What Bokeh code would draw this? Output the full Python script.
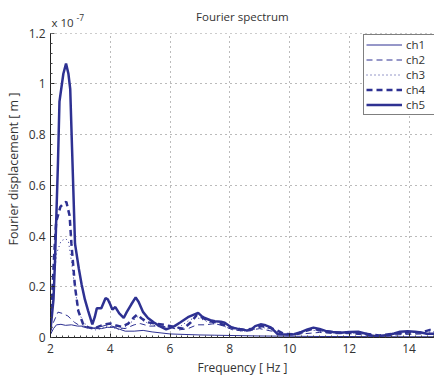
from bokeh.plotting import figure
from bokeh.models import Legend, LegendItem, Range1d, FixedTicker, Label, BoxAnnotation
from bokeh.embed import file_html
from bokeh.resources import INLINE

# Frequency [Hz] / Fourier displacement [x 1e-7 m]
f1 = [2.0, 2.1, 2.2, 2.35, 2.5, 2.7, 2.9, 3.1, 3.3, 3.5, 3.7, 3.9, 4.1, 4.3, 4.5, 4.8, 5.1, 5.4, 5.7, 6.0,
      6.5, 7.0, 7.5, 8.0, 9.0, 10.0, 11.0, 12.0, 13.0, 14.0, 14.85]
y1 = [0.012, 0.035, 0.05, 0.052, 0.048, 0.05, 0.045, 0.045, 0.04, 0.035, 0.035, 0.04, 0.04, 0.033, 0.025, 0.025,
      0.028, 0.022, 0.018, 0.014, 0.012, 0.01, 0.009, 0.008, 0.006, 0.005, 0.004, 0.004, 0.003, 0.003, 0.003]

f2 = [2.0, 2.1, 2.25, 2.4, 2.58, 2.8, 3.0, 3.3, 3.6, 3.9, 4.2, 4.5, 4.8, 5.0, 5.3, 5.7, 6.0, 6.3, 6.6, 6.9,
      7.2, 7.5, 7.8, 8.1, 8.5, 9.0, 9.4, 9.8, 10.5, 11.0, 11.5, 12.0, 13.0, 13.8, 14.85]
y2 = [0.02, 0.06, 0.1, 0.095, 0.085, 0.06, 0.045, 0.035, 0.04, 0.05, 0.04, 0.035, 0.05, 0.055, 0.045, 0.045,
      0.04, 0.03, 0.035, 0.05, 0.05, 0.055, 0.045, 0.03, 0.025, 0.035, 0.025, 0.01, 0.015, 0.02, 0.015, 0.015,
      0.005, 0.012, 0.015]

f3 = [2.0, 2.1, 2.2, 2.35, 2.5, 2.6, 2.7, 2.82, 2.95, 3.1, 3.3, 3.5, 3.7, 3.9, 4.1, 4.3, 4.55, 4.8, 4.95, 5.1,
      5.4, 5.7, 6.0, 6.3, 6.6, 6.85, 7.1, 7.4, 7.7, 8.0, 8.4, 8.8, 9.1, 9.4, 9.8, 10.3, 10.7, 11.0, 11.5, 12.0,
      12.6, 13.0, 13.6, 14.2, 14.85]
y3 = [0.06, 0.2, 0.33, 0.38, 0.39, 0.38, 0.3, 0.19, 0.1, 0.06, 0.04, 0.03, 0.035, 0.045, 0.04, 0.03, 0.045,
      0.07, 0.085, 0.065, 0.05, 0.04, 0.035, 0.04, 0.065, 0.08, 0.07, 0.055, 0.05, 0.035, 0.025, 0.03, 0.04,
      0.03, 0.012, 0.012, 0.03, 0.025, 0.018, 0.018, 0.012, 0.006, 0.014, 0.02, 0.022]

f4 = [2.0, 2.05, 2.12, 2.19, 2.33, 2.45, 2.53, 2.64, 2.7, 2.82, 2.93, 3.1, 3.26, 3.45, 3.65, 3.85, 4.0, 4.2,
      4.4, 4.6, 4.8, 4.9, 5.05, 5.25, 5.5, 5.8, 6.0, 6.2, 6.45, 6.7, 6.9, 7.05, 7.3, 7.6, 7.9, 8.2, 8.5, 8.8,
      9.05, 9.3, 9.55, 9.8, 10.2, 10.5, 10.8, 11.1, 11.5, 12.0, 12.5, 13.0, 13.5, 14.0, 14.4, 14.7, 14.85]
y4 = [0.07, 0.15, 0.32, 0.456, 0.515, 0.53, 0.535, 0.48, 0.37, 0.2, 0.105, 0.05, 0.04, 0.035, 0.045, 0.052,
      0.055, 0.047, 0.042, 0.055, 0.08, 0.09, 0.075, 0.06, 0.055, 0.05, 0.045, 0.04, 0.035, 0.06, 0.09, 0.08,
      0.065, 0.058, 0.045, 0.035, 0.03, 0.035, 0.045, 0.04, 0.03, 0.015, 0.012, 0.025, 0.035, 0.025, 0.02,
      0.02, 0.015, 0.008, 0.015, 0.02, 0.02, 0.03, 0.028]

f5 = [2.0, 2.1, 2.15, 2.25, 2.3, 2.43, 2.52, 2.6, 2.66, 2.72, 2.82, 2.95, 3.04, 3.15, 3.26, 3.4, 3.48, 3.55,
      3.7, 3.84, 3.92, 4.0, 4.07, 4.17, 4.3, 4.45, 4.55, 4.7, 4.85, 4.95, 5.1, 5.26, 5.45, 5.65, 5.87, 6.0,
      6.15, 6.35, 6.6, 6.8, 6.94, 7.05, 7.16, 7.35, 7.5, 7.7, 7.83, 7.95, 8.05, 8.25, 8.4, 8.55, 8.7, 8.85,
      9.03, 9.2, 9.37, 9.5, 9.6, 9.9, 10.15, 10.4, 10.6, 10.8, 11.0, 11.2, 11.45, 11.7, 12.0, 12.3, 12.55,
      12.8, 13.05, 13.3, 13.5, 13.7, 13.95, 14.2, 14.4, 14.6, 14.85]
y5 = [0.03, 0.15, 0.3, 0.69, 0.93, 1.04, 1.08, 1.04, 0.98, 0.75, 0.37, 0.27, 0.21, 0.15, 0.105, 0.052, 0.08,
      0.115, 0.115, 0.155, 0.15, 0.13, 0.11, 0.12, 0.095, 0.077, 0.1, 0.13, 0.158, 0.14, 0.1, 0.077, 0.06,
      0.045, 0.032, 0.038, 0.045, 0.06, 0.08, 0.09, 0.097, 0.085, 0.077, 0.068, 0.064, 0.062, 0.058, 0.048,
      0.04, 0.035, 0.032, 0.028, 0.03, 0.045, 0.052, 0.048, 0.04, 0.025, 0.013, 0.012, 0.013, 0.022, 0.032,
      0.039, 0.034, 0.026, 0.022, 0.019, 0.022, 0.023, 0.015, 0.006, 0.007, 0.01, 0.016, 0.023, 0.025, 0.023,
      0.02, 0.015, 0.015]

names = ["ch1", "ch2", "ch3", "ch4", "ch5"]
x_ticks = [2, 4, 6, 8, 10, 12, 14]
y_ticks = [0, 0.2, 0.4, 0.6, 0.8, 1.0, 1.2]

FONT = "Open Sans"
COL = "#2E3192"
TXT = "#333333"

# frame spans the full height above the x axis; the strip above 1.2 holds the title texts
Y_TOP = 1.2 * 340.0 / 307.0

p = figure(width=434, height=378, output_backend="svg", toolbar_location=None,
           x_range=Range1d(2, 14.85), y_range=Range1d(0, Y_TOP),
           min_border_left=50, min_border_right=0, min_border_top=0, min_border_bottom=38)
p.outline_line_color = None
p.background_fill_color = "white"

for ax in (p.xaxis[0], p.yaxis[0]):
    ax.axis_line_color = "#222222"
    ax.axis_line_width = 1
    ax.major_tick_in = 4
    ax.major_tick_out = 0
    ax.minor_tick_in = 2
    ax.minor_tick_out = 0
    ax.major_tick_line_color = "#222222"
    ax.minor_tick_line_color = "#444444"
    ax.major_label_text_font = FONT
    ax.major_label_text_font_size = "12px"
    ax.major_label_text_color = TXT
    ax.axis_label_text_font = FONT
    ax.axis_label_text_font_style = "normal"
    ax.axis_label_text_color = TXT
p.xaxis.axis_label_text_font_size = "12px"
p.yaxis.axis_label_text_font_size = "12.5px"

p.yaxis.bounds = (0, 1.2)
p.xaxis.ticker = FixedTicker(ticks=x_ticks, minor_ticks=[2 + 0.2 * i for i in range(65)])
p.yaxis.ticker = FixedTicker(ticks=y_ticks, minor_ticks=[0.04 * i for i in range(31)])
p.yaxis.major_label_overrides = {0: "0", 0.2: "0.2", 0.4: "0.4", 0.6: "0.6", 0.8: "0.8", 1.0: "1", 1.2: "1.2"}
p.xaxis.axis_label = "Frequency [ Hz ]"
p.yaxis.axis_label = "Fourier displacement [ m ]"
p.xaxis.major_label_standoff = 6
p.yaxis.major_label_standoff = 5
p.xaxis.axis_label_standoff = 3
p.yaxis.axis_label_standoff = 4

p.grid.grid_line_color = "#777777"
p.grid.grid_line_dash = "1 4"
p.grid.grid_line_width = 1

r1 = p.line(f1, y1, line_color=COL, line_width=1)
r2 = p.line(f2, y2, line_color=COL, line_width=1, line_dash="6 4")
r3 = p.line(f3, y3, line_color=COL, line_width=1, line_dash="1 3")
r4 = p.line(f4, y4, line_color=COL, line_width=2.5, line_dash="6 4")
r5 = p.line(f5, y5, line_color=COL, line_width=2.5)

# white strip above the axes box (hides the grid there)
p.add_layout(BoxAnnotation(bottom=1.2, fill_color="white", fill_alpha=1.0, line_color=None, level="overlay"))

legend = Legend(items=[LegendItem(label=n, renderers=[r]) for n, r in zip(names, [r1, r2, r3, r4, r5])],
                location=(313, 222), orientation="vertical",
                border_line_color="black", border_line_width=1, background_fill_color="white",
                background_fill_alpha=1.0, glyph_width=36, glyph_height=15, label_height=15,
                label_standoff=4, label_width=40, spacing=0, padding=2, margin=0,
                label_text_font=FONT, label_text_font_size="11.5px", label_text_color=TXT)
p.add_layout(legend, "center")

p.add_layout(Label(x=8.42, y=1.2, y_offset=9, text="Fourier spectrum", text_align="center",
                   text_font=FONT, text_font_size="11.5px", text_color=TXT, level="overlay"))
p.add_layout(Label(x=2.0, y=1.2, x_offset=1, y_offset=3, text="x 10", text_align="left",
                   text_font=FONT, text_font_size="11.5px", text_color=TXT, level="overlay"))
p.add_layout(Label(x=2.0, y=1.2, x_offset=26, y_offset=12, text="-7", text_align="left",
                   text_font=FONT, text_font_size="8.5px", text_color=TXT, level="overlay"))

open("out.html", "w").write(file_html(p, INLINE))
